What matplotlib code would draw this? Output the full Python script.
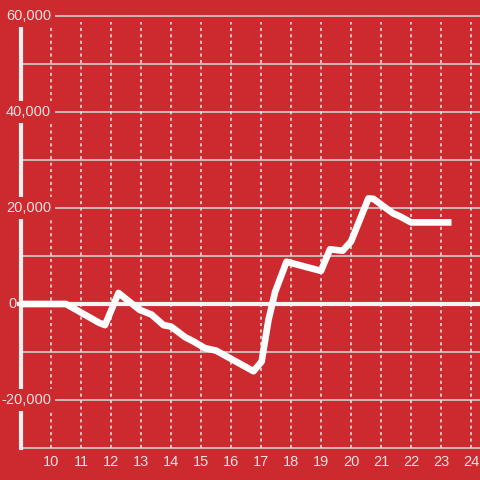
import matplotlib
matplotlib.use("Agg")
import matplotlib.pyplot as plt
import numpy as np

hours = [9.0, 10.5, 11.6, 11.8, 12.25, 12.95, 13.35, 13.75, 14.0, 14.47, 14.75,
         15.13, 15.5, 16.75, 17.02, 17.25, 17.47, 17.85, 19.0, 19.3, 19.72, 20.0,
         20.58, 20.75, 21.4, 21.65, 22.0, 23.35]
values = [0, 0, -3900, -4400, 2300, -1200, -2200, -4400, -4700, -6900, -7800,
          -9200, -9700, -14000, -12000, -3300, 2500, 8800, 6900, 11400, 11100, 13000,
          22000, 21900, 18900, 18200, 17000, 17000]
x_ticks = list(range(10, 25))
y_label_values = [-20000, 0, 20000, 40000, 60000]
y_grid_values = list(range(-30000, 60001, 10000))

BG = "#cc2a2f"
TXT = "#f3e0e0"
GRID = "#d0d0d0"

plt.rcParams['font.family'] = ['Liberation Sans', 'DejaVu Sans']

W = H = 480
fig = plt.figure(figsize=(4.8, 4.8), dpi=100, facecolor=BG)
left_px, right_px, top_px, bottom_px = 21, 480, 16, 448
ax = fig.add_axes([left_px / W, 1 - bottom_px / H, (right_px - left_px) / W, (bottom_px - top_px) / H])
ax.set_facecolor(BG)
ax.set_xlim(9.0, 24.3)
ax.set_ylim(-30000, 60000)
for s in ax.spines.values():
    s.set_visible(False)
ax.set_xticks([])
ax.set_yticks([])

# horizontal grid
for v in y_grid_values:
    if v == 0:
        continue
    ax.axhline(v, color=GRID, lw=1.2, zorder=1, clip_on=False)

# vertical dotted grid
vtop = (bottom_px - 22) / (bottom_px - top_px)
for h in x_ticks:
    ax.axvline(h, ymin=0, ymax=vtop, color="#ececec", lw=1.1, ls=(0, (2, 2.2)), zorder=1)

# left spine
ax.axvline(9.0, ymin=0, ymax=1, color="#f4f0f0", lw=3, zorder=2, clip_on=False)

# y labels with background boxes
trans = matplotlib.transforms.blended_transform_factory(fig.transFigure, ax.transData)
for v in y_label_values:
    lab = f"{v:,}"
    if v == 0:
        ax.text(8 / W, v, lab, transform=trans, ha="left", va="center", fontsize=10.5,
                color=TXT, zorder=3,
                bbox=dict(boxstyle="square,pad=0.15", fc=BG, ec="none"))
    else:
        ax.text(51 / W, v, lab, transform=trans, ha="right", va="center", fontsize=10.5,
                color=TXT, zorder=3,
                bbox=dict(boxstyle="square,pad=0.25", fc=BG, ec="none"))

# zero line
ax.plot([9.0 - 4 / 30, 24.3], [0, 0], color="#f8f4f4", lw=3, zorder=4, clip_on=False,
        solid_capstyle="butt")

# main series
ax.plot(hours, values, color="white", lw=4.8, zorder=5, solid_joinstyle="round",
        solid_capstyle="butt")

# x labels
for h in x_ticks:
    ax.text(h, -31500, str(h), transform=ax.transData, ha="center", va="top",
            fontsize=10.5, color=TXT, zorder=3)

fig.savefig("out.png", dpi=100, facecolor=BG)
